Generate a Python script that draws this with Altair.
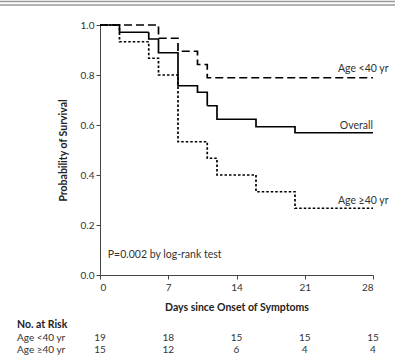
import altair as alt
import pandas as pd

# Kaplan-Meier step data (days, survival probability)
young_days = [0, 6, 8, 10, 11, 28]
young_surv = [1.0, 0.947, 0.895, 0.842, 0.789, 0.789]
old_days = [0, 2, 5, 6, 8, 11, 12, 16, 20, 28]
old_surv = [1.0, 0.933, 0.867, 0.8, 0.533, 0.467, 0.4, 0.333, 0.267, 0.267]
all_days = [0, 2, 5, 6, 8, 10, 11, 12, 16, 20, 28]
all_surv = [1.0, 0.971, 0.944, 0.889, 0.757, 0.731, 0.677, 0.623, 0.593, 0.569, 0.569]

risk_days = [0, 7, 14, 21, 28]
risk_young = [19, 18, 15, 15, 15]
risk_old = [15, 12, 6, 4, 4]

series_labels = ["Age <40 yr", "Overall", "Age \u226540 yr"]
label_x = [24.4, 24.6, 24.4]
label_y = [0.824, 0.597, 0.297]

FONT = "Lato"

rows = []
for d, s in zip(young_days, young_surv):
    rows.append({"day": d, "surv": s, "group": "young"})
for d, s in zip(old_days, old_surv):
    rows.append({"day": d, "surv": s, "group": "old"})
for d, s in zip(all_days, all_surv):
    rows.append({"day": d, "surv": s, "group": "all"})
df = pd.DataFrame(rows)

xscale = alt.Scale(domain=[0, 28], nice=False)
yscale = alt.Scale(domain=[0, 1], nice=False)

lines = alt.Chart(df).mark_line(interpolate="step-after", color="black", strokeWidth=1.7).encode(
    x=alt.X("day:Q", scale=xscale,
            axis=alt.Axis(values=[0, 7, 14, 21, 28], title="Days since Onset of Symptoms",
                          titleFontWeight="bold", titleFontSize=10.5, titlePadding=10,
                          labelFontSize=10, labelPadding=3, tickSize=4, grid=False,
                          domainColor="#444", tickColor="#444", labelColor="#333",
                          titleColor="#222", labelFont=FONT, titleFont=FONT)),
    y=alt.Y("surv:Q", scale=yscale,
            axis=alt.Axis(values=[0, 0.2, 0.4, 0.6, 0.8, 1.0], format=".1f",
                          title="Probability of Survival", titleFontWeight="bold",
                          titleFontSize=10.5, titlePadding=12, labelFontSize=10,
                          labelPadding=2, tickSize=4, grid=False,
                          domainColor="#444", tickColor="#444", labelColor="#333",
                          titleColor="#222", labelFont=FONT, titleFont=FONT)),
    strokeDash=alt.StrokeDash("group:N", legend=None,
                              scale=alt.Scale(domain=["all", "young", "old"],
                                              range=[[1, 0], [8, 4], [2.5, 2]])),
    detail="group:N",
)

lab_df = pd.DataFrame({"label": series_labels, "y": label_y, "x": label_x})
labels = alt.Chart(lab_df).mark_text(align="left", baseline="middle",
                                     fontSize=10.5, font=FONT, color="#333").encode(
    x=alt.X("x:Q", scale=xscale), y=alt.Y("y:Q", scale=yscale), text="label:N")

p_df = pd.DataFrame({"x": [0.8], "y": [0.08], "t": ["P=0.002 by log-rank test"]})
ptext = alt.Chart(p_df).mark_text(align="left", baseline="middle", fontSize=10.5,
                                  font=FONT, color="#333").encode(
    x=alt.X("x:Q", scale=xscale), y=alt.Y("y:Q", scale=yscale), text="t:N")

risk_df = pd.DataFrame({"day": risk_days * 2,
                        "n": [str(v) for v in risk_young + risk_old],
                        "row": ["young"] * 5 + ["old"] * 5})
risk_y = alt.Chart(risk_df[risk_df.row == "young"]).mark_text(
    baseline="middle", fontSize=10, font=FONT, color="#333").encode(
    x=alt.X("day:Q", scale=xscale), y=alt.value(312.5), text="n:N")
risk_o = alt.Chart(risk_df[risk_df.row == "old"]).mark_text(
    baseline="middle", fontSize=10, font=FONT, color="#333").encode(
    x=alt.X("day:Q", scale=xscale), y=alt.value(325), text="n:N")

head_df = pd.DataFrame({"t": ["No. at Risk", "Age <40 yr", "Age \u226540 yr"]})
head = alt.Chart(head_df.iloc[[0]]).mark_text(align="left", baseline="middle", fontSize=10.5,
                                              fontWeight="bold", font=FONT, color="#222").encode(
    x=alt.value(-83), y=alt.value(300), text="t:N")
row1 = alt.Chart(head_df.iloc[[1]]).mark_text(align="left", baseline="middle", fontSize=10,
                                              font=FONT, color="#333").encode(
    x=alt.value(-83), y=alt.value(312.5), text="t:N")
row2 = alt.Chart(head_df.iloc[[2]]).mark_text(align="left", baseline="middle", fontSize=10,
                                              font=FONT, color="#333").encode(
    x=alt.value(-83), y=alt.value(325), text="t:N")

border_df = pd.DataFrame({"k": [0]})
b1 = alt.Chart(border_df).mark_rule(color="#999", strokeWidth=1.5).encode(
    x=alt.value(-100), x2=alt.value(295), y=alt.value(-23.5))
b2 = alt.Chart(border_df).mark_rule(color="#999", strokeWidth=1.5).encode(
    x=alt.value(-100), x2=alt.value(295), y=alt.value(-20))

chart = alt.layer(lines, labels, ptext, risk_y, risk_o, head, row1, row2, b1, b2).properties(
    width=273, height=250,
    autosize=alt.AutoSizeParams(type="none"),
    padding={"left": 100, "top": 25, "right": 22, "bottom": 86},
    background="white",
).configure_view(stroke=None)

chart.save("out.html", embed_options={"renderer": "svg", "actions": False})
